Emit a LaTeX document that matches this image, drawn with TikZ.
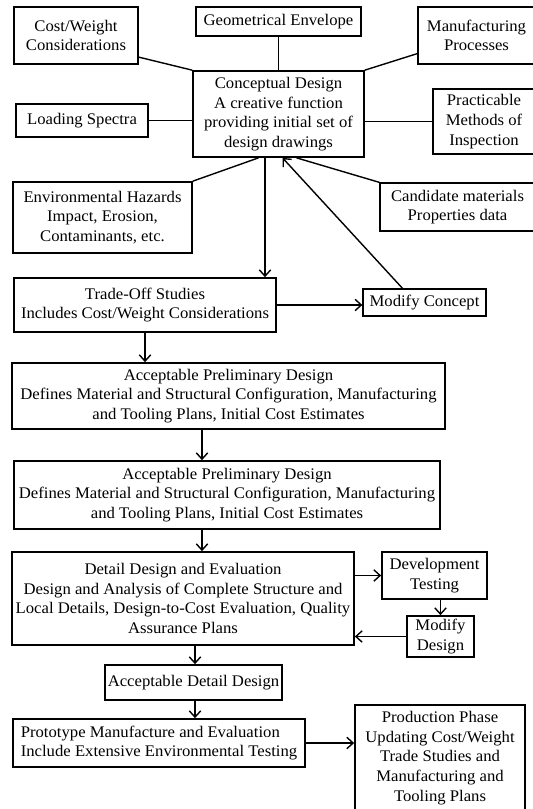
\documentclass[tikz,border=0pt]{standalone}
\usepackage{fontspec}
\setmainfont{Liberation Serif}[FakeStretch=1.03]
\usetikzlibrary{arrows.meta, positioning, calc}

\begin{document}
\begin{tikzpicture}[
    x=1pt, y=-1pt,
    box/.style={draw, line width=1.7pt, align=center, inner sep=0pt, font=\fontsize{16.2}{19.7}\selectfont},
    thin box/.style={box, line width=1.3pt},
    link/.style={line width=1.4pt},
    arrow/.style={link, -{Straight Barb[length=2.2mm, width=4mm]}}
]
\useasboundingbox (0,0) rectangle (533,809);

% inputs round the conceptual design
\node[box, minimum width=171, minimum height=86] (concept) at (278.5,114) {Conceptual Design\\ A creative function\\providing initial set of\\design drawings};
\node[box, minimum width=124, minimum height=57] (cost) at (76,35.5) {Cost/Weight\\Considerations};
\node[thin box, minimum width=165, minimum height=29] (geo) at (278.5,21.5) {Geometrical Envelope};
\node[thin box, minimum width=117, minimum height=57] (manuf) at (476.5,35.5) {Manufacturing\\Processes};
\node[thin box, minimum width=132, minimum height=33] (load) at (82,120.5) {Loading Spectra};
\node[box, minimum width=102, minimum height=65] (pract) at (484,121.5) {Practicable\\Methods of\\ Inspection};
\node[box, minimum width=179, minimum height=71] (env) at (102.5,217.5) {Environmental Hazards\\Impact, Erosion,\\ Contaminants, etc.};
\node[thin box, minimum width=155, minimum height=48] (cand) at (457.5,207) {Candidate materials\\Properties data};

\draw[link] (cost.-19) -- (concept.north west);
\draw[link] (geo) -- (concept);
\draw[link] (concept.north east) -- (manuf.197);
\draw[link] (load) -- (load -| concept.west);
\draw[link] (concept.east |- pract) -- (pract);
\draw[link] ($(concept.south)+(-20,0)$) -- (env.north east);
\draw[link] ($(concept.south)+(18,0)$) -- (cand.north west);

% trade-off loop
\node[box, minimum width=262, minimum height=54] (trade) at (145,305) {Trade-Off Studies\\Includes Cost/Weight Considerations};
\node[thin box, minimum width=123, minimum height=27] (modc) at (424.5,302.5) {Modify Concept};
\draw[arrow] ($(concept.south)+(-13.5,0)$) coordinate (cd) -- (cd |- trade.north);
\draw[arrow] (trade.east) -- (trade.east -| modc.west);
\draw[arrow] ($(modc.north)+(-22,0)$) -- ($(concept.south)+(4,0)$);

% preliminary design
\node[box, minimum width=433, minimum height=66] (prelA) at (228.5,396) {Acceptable Preliminary Design\\Defines Material and Structural Configuration, Manufacturing\\and Tooling Plans, Initial Cost Estimates};
\node[box, minimum width=426, minimum height=68] (prelB) at (227,495) {Acceptable Preliminary Design\\Defines Material and Structural Configuration, Manufacturing\\and Tooling Plans, Initial Cost Estimates};
\draw[arrow] (trade.south) -- (trade.south |- prelA.north);
\draw[arrow] ($(prelA.south)+(-26.5,0)$) coordinate (pa) -- (pa |- prelB.north);

% detail design loop
\node[box, minimum width=342, minimum height=93] (detail) at (183,598.5) {Detail Design and Evaluation\\Design and Analysis of Complete Structure and\\Local Details, Design-to-Cost Evaluation, Quality\\Assurance Plans};
\node[box, minimum width=105, minimum height=47] (devt) at (434.5,575.5) {Development\\Testing};
\node[box, minimum width=67, minimum height=41] (modd) at (440.5,636.5) {Modify\\Design};
\draw[arrow] (pa |- prelB.south) -- (pa |- detail.north);
\draw[arrow] (devt.west -| detail.east) -- (devt.west);
\draw[arrow] (modd.north |- devt.south) -- (modd.north);
\draw[arrow] (modd.west) -- (modd.west -| detail.east);

% detail design to production
\node[box, minimum width=177, minimum height=35] (accd) at (193.5,682.5) {Acceptable Detail Design};
\node[box, minimum width=292, minimum height=48, align=left] (proto) at (159,743) {Prototype Manufacture and Evaluation\\Include Extensive Environmental Testing};
\node[box, minimum width=170, minimum height=106] (prod) at (440,758) {Production Phase\\Updating Cost/Weight\\Trade Studies and\\Manufacturing and\\Tooling Plans};
\draw[arrow] ($(detail.south)+(12,0)$) coordinate (dd) -- (dd |- accd.north);
\draw[arrow] (dd |- accd.south) -- (dd |- proto.north);
\draw[arrow] (proto.east) -- (proto.east -| prod.west);

\end{tikzpicture}
\end{document}
